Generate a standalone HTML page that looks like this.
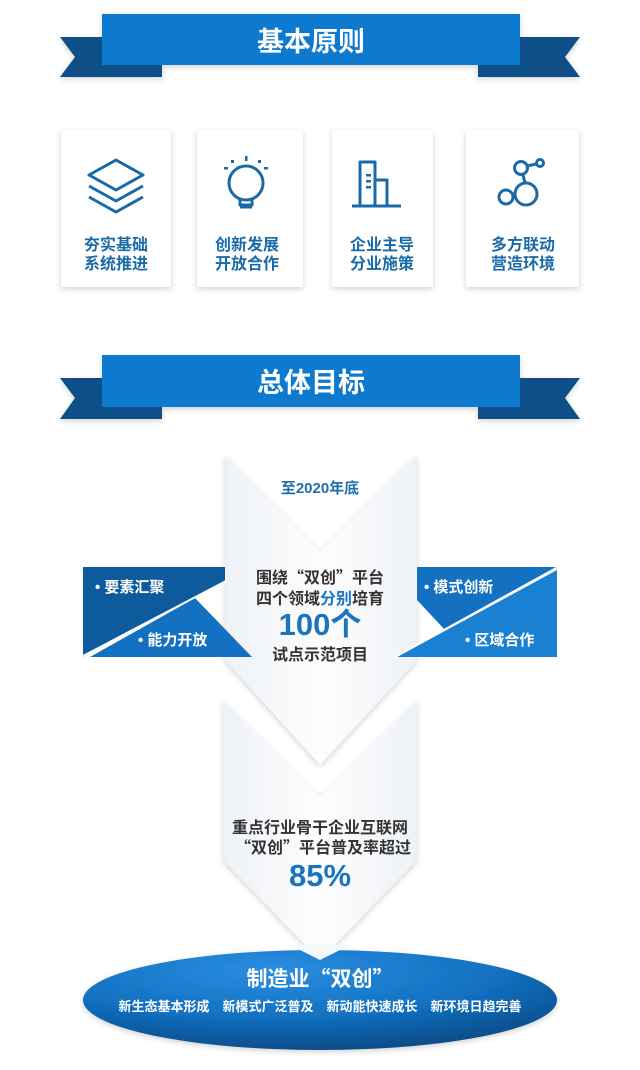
<!DOCTYPE html>
<html><head><meta charset="utf-8"><style>
html,body{margin:0;padding:0;background:#fff}
svg{display:block}
text{font-family:"Liberation Sans","Noto Sans CJK SC",sans-serif;font-weight:bold}
.q{font-family:"Noto Sans CJK SC",sans-serif}
</style></head><body>
<svg width="640" height="1070" viewBox="0 0 640 1070" xmlns="http://www.w3.org/2000/svg">
<defs>
<filter id="sh" x="-20%" y="-20%" width="140%" height="140%"><feDropShadow dx="0" dy="2" stdDeviation="3" flood-color="#000" flood-opacity="0.18"/></filter>
<linearGradient id="chev" x1="0" y1="0" x2="1" y2="0"><stop offset="0" stop-color="#eef2f6"/><stop offset="0.5" stop-color="#fdfdfe"/><stop offset="1" stop-color="#eef2f6"/></linearGradient>
<radialGradient id="ell" cx="0.4" cy="0.2" r="0.8"><stop offset="0" stop-color="#2a8ee0"/><stop offset="0.6" stop-color="#1270c0"/><stop offset="1" stop-color="#0a4d8a"/></radialGradient>
</defs>
<rect width="640" height="1070" fill="#fff"/>

<g filter="url(#sh)">
<polygon points="60,37 162,37 162,77 60,77 75,57" fill="#0b4f86"/>
<polygon points="580,37 478,37 478,77 580,77 565,57" fill="#0b4f86"/>
<rect x="102" y="14" width="418" height="51" fill="#0a7ad0"/>
</g>
<text x="311" y="51" font-size="27" fill="#fff" text-anchor="middle">基本原则</text>

<g filter="url(#sh)" fill="#fff">
<rect x="61" y="130" width="110" height="157" rx="2"/>
<rect x="197" y="130" width="106" height="157" rx="2"/>
<rect x="332" y="130" width="101" height="157" rx="2"/>
<rect x="466" y="130" width="113" height="157" rx="2"/>
</g>
<g fill="none" stroke="#1a6aa8" stroke-width="3" stroke-linejoin="round">
<polygon points="116,160 143,175 116,190 89,175"/>
<polyline points="89,186 116,201 143,186"/>
<polyline points="89,197 116,212 143,197"/>
<circle cx="246" cy="183" r="17"/>
<path d="M240,199 L240,205 L252,205 L252,199"/>
<line x1="240" y1="207" x2="252" y2="207"/>
<path d="M360,205 L360,162 L375,162 L375,205 M375,180 L387,180 L387,205" />
<line x1="352" y1="206" x2="401" y2="206"/>
<circle cx="521" cy="168" r="6.5"/><circle cx="526" cy="194" r="11"/><circle cx="506" cy="197" r="7"/><circle cx="540" cy="163" r="3.5"/>
<line x1="527" y1="166" x2="536" y2="164"/><line x1="523" y1="175" x2="525" y2="183"/><line x1="513" y1="197" x2="515" y2="196"/>
</g>
<g fill="#1a6aa8"><rect x="366" y="174" width="5" height="2.5"/><rect x="366" y="180" width="5" height="2.5"/><rect x="366" y="186" width="5" height="2.5"/>
<rect x="245" y="156" width="2.5" height="5"/><rect x="224" y="167" width="4" height="2.5"/><rect x="264" y="167" width="4" height="2.5"/><rect x="231" y="160" width="3" height="3"/><rect x="258" y="160" width="3" height="3"/></g>
<g font-size="16" fill="#1a6aa8" text-anchor="middle">
<text x="116" y="250">夯实基础</text><text x="116" y="269">系统推进</text>
<text x="247" y="250">创新发展</text><text x="247" y="269">开放合作</text>
<text x="382" y="250">企业主导</text><text x="382" y="269">分业施策</text>
<text x="523" y="250">多方联动</text><text x="523" y="269">营造环境</text>
</g>

<g filter="url(#sh)">
<polygon points="60,378 162,378 162,419 60,419 75,398" fill="#0b4f86"/>
<polygon points="580,378 478,378 478,419 580,419 565,398" fill="#0b4f86"/>
<rect x="102" y="355" width="418" height="52" fill="#0a7ad0"/>
</g>
<text x="311" y="392" font-size="27" fill="#fff" text-anchor="middle">总体目标</text>

<!-- chevron 1 -->
<polygon points="225,455 320,552 417,455 417,660 320,765 225,660" fill="url(#chev)" filter="url(#sh)"/>

<!-- side panels -->
<polygon points="83,567 225,567 225,582 83,657" fill="#0d5b9c"/>
<polygon points="195,598 252,657 90,657" fill="#1470c0"/>
<line x1="83" y1="656" x2="226" y2="581" stroke="#fff" stroke-width="2"/>
<polygon points="417,567 557,567 557,568 445,630 417,600" fill="#1470c0"/>
<polygon points="557,570 557,657 397,657" fill="#1a80d2"/>
<line x1="395" y1="657" x2="558" y2="567" stroke="#fff" stroke-width="2"/>
<g font-size="15" fill="#fff">
<text x="95" y="592">•  要素汇聚</text>
<text x="138" y="645">•  能力开放</text>
<text x="424" y="592">•  模式创新</text>
<text x="465" y="645">•  区域合作</text>
</g>

<!-- chevron 2 -->
<polygon points="223,700 320,797 417,700 417,860 320,960 223,860" fill="url(#chev)" filter="url(#sh)"/>

<ellipse cx="320" cy="1000" rx="237" ry="50" fill="url(#ell)" filter="url(#sh)"/>
<polygon points="290,945 320,960 350,945" fill="#f6f8fa"/>

<g text-anchor="middle">
<text x="320" y="493" font-size="15" fill="#1e6fae">至2020年底</text>
<text x="320" y="583" font-size="16" fill="#333">围绕<tspan class="q">“</tspan>双创<tspan class="q">”</tspan>平台</text>
<text x="320" y="604" font-size="16" fill="#333">四个领域<tspan fill="#1a78c8">分别</tspan>培育</text>
<text x="320" y="635" font-size="31" fill="#1a74c0">100个</text>
<text x="320" y="660" font-size="16" fill="#333">试点示范项目</text>
<text x="320" y="833" font-size="16" fill="#333">重点行业骨干企业互联网</text>
<text x="323" y="853" font-size="16" fill="#333"><tspan class="q">“</tspan>双创<tspan class="q">”</tspan>平台普及率超过</text>
<text x="320" y="886" font-size="31" fill="#1a74c0">85%</text>
<text x="320" y="986" font-size="21" fill="#fff">制造业<tspan class="q">“</tspan>双创<tspan class="q">”</tspan></text>
<text x="320" y="1011" font-size="13" fill="#fff">新生态基本形成　新模式广泛普及　新动能快速成长　新环境日趋完善</text>
</g>
</svg>
</body></html>
